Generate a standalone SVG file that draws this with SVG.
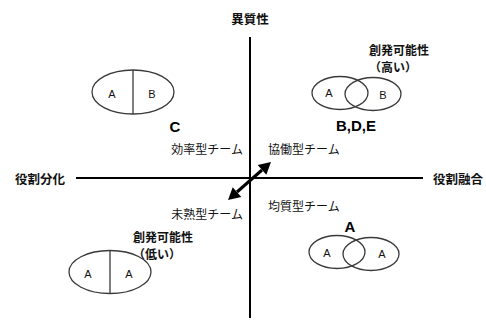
<svg xmlns="http://www.w3.org/2000/svg" width="486" height="320" viewBox="0 0 486 320">
  <defs>
    <style>
      .bg { fill: #ffffff; }
      .axis { stroke: #000000; stroke-width: 2; fill: none; }
      .shape { fill: none; stroke: #3a3a3a; stroke-width: 1.3; }
      .jp { font-family: "Noto Sans CJK JP", "Noto Sans", sans-serif; fill: #111111; dominant-baseline: central; }
      .lbl { font-size: 12.5px; font-weight: 700; }
      .sub { font-size: 12px; font-weight: 700; }
      .team { font-size: 12px; font-weight: 400; }
      .tag { font-family: "Liberation Sans", Arial, sans-serif; font-size: 15px; font-weight: 700; fill: #000000; text-anchor: middle; dominant-baseline: central; }
      .cell { font-family: "Liberation Sans", Arial, sans-serif; font-size: 11px; fill: #111111; text-anchor: middle; dominant-baseline: central; }
      .arrow-body { stroke: #000000; stroke-width: 3; }
      .arrow-head { fill: #000000; }
    </style>
  </defs>

  <rect class="bg" x="0" y="0" width="486" height="320"/>

  <!-- axes and the two-way arrow -->
  <g id="connectors">
    <line class="axis" x1="250" y1="37" x2="250" y2="318"/>
    <line class="axis" x1="76" y1="178" x2="423" y2="178"/>
    <line class="arrow-body" x1="237" y1="192" x2="262" y2="170"/>
    <polygon class="arrow-head" points="271,162 266.3,174.8 257.7,165"/>
    <polygon class="arrow-head" points="228,200 241.3,197 232.7,187.2"/>
  </g>

  <!-- axis labels -->
  <g id="axis-top"><text class="jp lbl" x="250" y="18" text-anchor="middle">異質性</text></g>
  <g id="axis-left"><text class="jp lbl" x="15" y="178">役割分化</text></g>
  <g id="axis-right"><text class="jp lbl" x="433" y="178">役割融合</text></g>

  <!-- quadrant team names -->
  <g id="team-efficient"><text class="jp team" x="243" y="148" text-anchor="end">効率型チーム</text></g>
  <g id="team-collab"><text class="jp team" x="268" y="148">協働型チーム</text></g>
  <g id="team-immature"><text class="jp team" x="243" y="213" text-anchor="end">未熟型チーム</text></g>
  <g id="team-homog"><text class="jp team" x="268" y="205">均質型チーム</text></g>

  <!-- top-left: split ellipse A|B -->
  <g id="node-c">
    <ellipse class="shape" cx="133" cy="92" rx="41" ry="22"/>
    <line class="shape" x1="133" y1="70" x2="133" y2="114"/>
    <text class="cell" x="112" y="94">A</text>
    <text class="cell" x="152" y="94">B</text>
    <text class="tag" x="175" y="126">C</text>
  </g>

  <!-- top-right: overlapping A and B -->
  <g id="node-bde">
    <text class="jp sub" x="399" y="49" text-anchor="middle">創発可能性</text>
    <text class="jp sub" x="393" y="66" text-anchor="middle">（高い）</text>
    <ellipse class="shape" cx="340" cy="93" rx="28" ry="16.5"/>
    <ellipse class="shape" cx="373" cy="94" rx="28" ry="16.5"/>
    <text class="cell" x="329" y="93">A</text>
    <text class="cell" x="383" y="95">B</text>
    <text class="tag" x="356" y="125">B,D,E</text>
  </g>

  <!-- bottom-right: overlapping A and A -->
  <g id="node-a">
    <text class="tag" x="350" y="226">A</text>
    <ellipse class="shape" cx="337" cy="252" rx="28" ry="16.5"/>
    <ellipse class="shape" cx="371" cy="254" rx="28" ry="16.5"/>
    <text class="cell" x="327" y="253">A</text>
    <text class="cell" x="382" y="254">A</text>
  </g>

  <!-- bottom-left: split ellipse A|A -->
  <g id="node-low">
    <text class="jp sub" x="163" y="236" text-anchor="middle">創発可能性</text>
    <text class="jp sub" x="157" y="253" text-anchor="middle">（低い）</text>
    <ellipse class="shape" cx="110" cy="272" rx="41" ry="21.5"/>
    <line class="shape" x1="110" y1="250.5" x2="110" y2="293.5"/>
    <text class="cell" x="88" y="274">A</text>
    <text class="cell" x="129" y="274">A</text>
  </g>
</svg>
